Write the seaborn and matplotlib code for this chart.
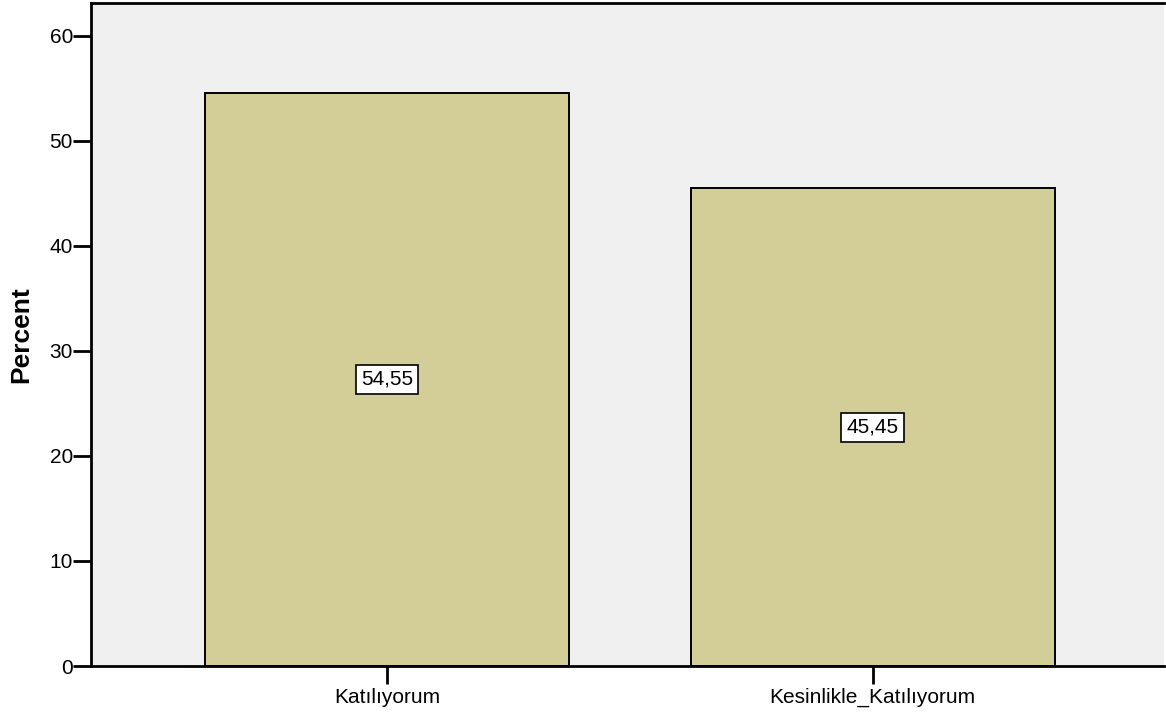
import matplotlib
matplotlib.use("Agg")
import matplotlib.pyplot as plt
import seaborn as sns
import pandas as pd

categories = ["Katılıyorum", "Kesinlikle_Katılıyorum"]
percents = [54.55, 45.45]
value_labels = ["54,55", "45,45"]
y_ticks = [0, 10, 20, 30, 40, 50, 60]

sns.set_theme(style="white")
plt.rcParams['font.family'] = ['Liberation Sans', 'DejaVu Sans']

df = pd.DataFrame({"cat": categories, "pct": percents})

fig = plt.figure(figsize=(11.66, 7.13), dpi=100)
ax = fig.add_axes([91/1166, 47/713, 1 - 91/1166 - 2/1166, (666-3)/713])
ax.set_facecolor("#F0F0F0")

sns.barplot(data=df, x="cat", y="pct", color="#D3CE97", saturation=1,
            width=0.75, edgecolor="black", linewidth=1.4, ax=ax)

for i, (v, lab) in enumerate(zip(percents, value_labels)):
    ax.text(i, v / 2, lab, ha="center", va="center", fontsize=15, color="black",
            bbox=dict(boxstyle="square,pad=0.25", facecolor="white", edgecolor="black", linewidth=1.2))

ax.set_xlim(-0.61, 1.60)
ax.set_ylim(0, 63.1)
ax.set_yticks(y_ticks)
ax.set_yticklabels([str(t) for t in y_ticks], fontsize=15)
ax.tick_params(axis="x", labelsize=15, length=13, width=2, color="black", labelcolor="black", direction="out", pad=3)
ax.tick_params(axis="y", length=13, width=2, color="black", labelcolor="black", direction="out", pad=0, left=True)
ax.tick_params(axis="x", bottom=True)
ax.set_xlabel("")
ax.set_ylabel("Percent", fontsize=19, fontweight="bold", labelpad=12, color="black")

for s in ["left", "bottom", "top"]:
    ax.spines[s].set_visible(True)
    ax.spines[s].set_color("black")
    ax.spines[s].set_linewidth(2)
ax.spines["right"].set_visible(False)

fig.savefig("out.png", dpi=100)
